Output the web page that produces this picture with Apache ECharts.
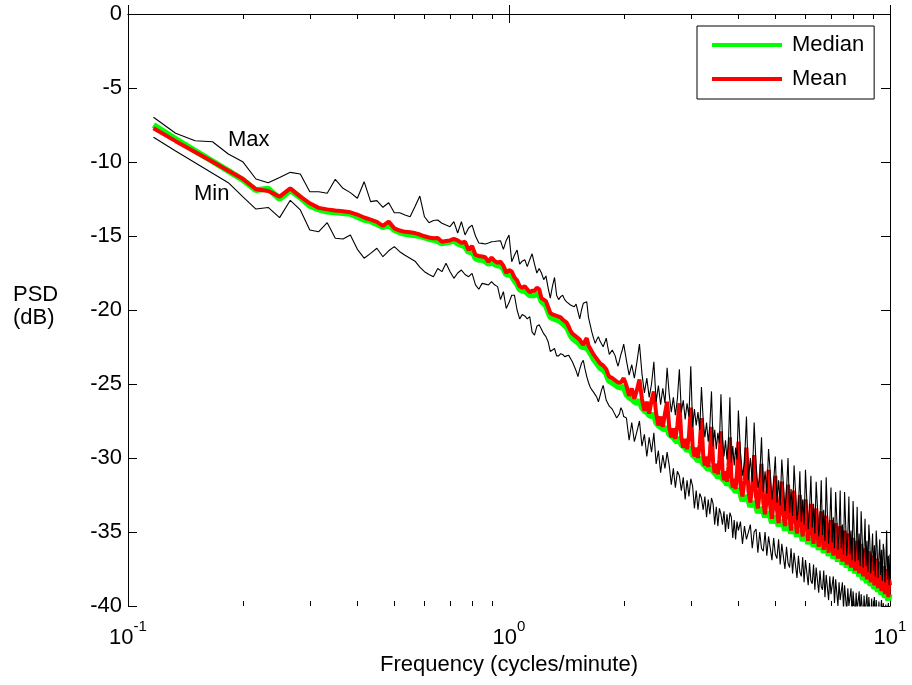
<!DOCTYPE html>
<html>
<head>
<meta charset="utf-8">
<script src="https://cdn.jsdelivr.net/npm/echarts@6/dist/echarts.min.js"></script>
<style>
html,body{margin:0;padding:0;background:#fff;}
#chart{width:912px;height:685px;}
</style>
</head>
<body>
<div id="chart"></div>
<script>
// FFT bin width (cycles/minute) and the bins that are plotted
const binWidth = 1 / 60;
const bins = [];
for (let k = 7; k <= 120; k++) bins.push(k);
for (let k = 122; k <= 240; k += 2) bins.push(k);
for (let k = 243; k <= 600; k += 3) bins.push(k);

const xTickLabels = [0.1, 1, 10];
const minorTicks = [0.2,0.3,0.4,0.5,0.6,0.7,0.8,0.9,2,3,4,5,6,7,8,9];
const yTicks = [0,-5,-10,-15,-20,-25,-30,-35,-40];

const maxPSD = [
-6.98,-8.06,-8.56,-8.63,-9.46,-9.98,-11.15,-11.4,-11.05,-10.7,
-10.81,-12.01,-12.01,-12.11,-11.17,-11.78,-12.07,-12.45,-11.33,-12.68,
-12.61,-13.06,-12.75,-13.43,-13.43,-13.58,-13.7,-13.0,-12.3,-13.7,
-14.1,-13.95,-13.92,-14.14,-14.26,-14.37,-14.03,-14.8,-14.03,-14.93,
-14.46,-14.26,-15.0,-15.47,-15.5,-15.54,-15.47,-15.39,-15.37,-15.34,
-15.32,-15.9,-15.3,-14.93,-16.74,-16.3,-15.95,-16.9,-16.7,-16.6,
-17.07,-16.6,-16.2,-16.9,-17.5,-17.2,-17.5,-17.95,-17.7,-18.5,
-19.2,-18.4,-17.8,-19.0,-19.3,-19.1,-19.0,-19.3,-19.45,-19.55,
-19.66,-19.7,-19.78,-19.6,-19.5,-20.6,-20.0,-19.55,-19.5,-19.44,
-20.5,-21.0,-21.5,-21.9,-22.25,-22.0,-21.8,-22.1,-22.3,-22.48,
-22.2,-21.9,-22.5,-23.0,-23.1,-22.7,-22.6,-23.1,-23.5,-23.8,
-23.4,-23.0,-22.7,-22.3,
-23.4,-24.4,-23.7,-24.6,-23.5,-22.3,
-24.3,-25.6,-24.6,-25.9,-25.0,-23.5,
-26.2,-25.1,-26.4,-25.3,-26.3,-23.9,
-25.7,-26.9,-25.9,-27.1,-26.0,-24.0,
-26.9,-26.1,-27.4,-26.3,-27.2,-23.8,
-27.9,-26.7,-27.8,-26.9,-28.1,-25.2,
-27.4,-28.6,-27.6,-28.9,-27.8,-25.5,
-29.2,-28.1,-29.4,-28.3,-29.0,-25.7,
-28.7,-29.9,-28.8,-30.1,-29.0,-25.9,
-30.3,-29.2,-30.5,-29.3,-30.1,-26.8,
-29.6,-31.2,-30.3,-27.2, -31.5,-30.0,-31.6,-27.6, -30.4,-32.0,-31.3,-28.6,
-32.3,-30.9,-32.4,-29.4, -31.0,-32.8,-31.6,-29.9, -33.0,-31.5,-33.2,-30.1,
-31.8,-33.6,-32.2,-30.0, -33.7,-32.1,-33.9,-30.5, -32.3,-34.2,-33.3,-30.9,
-34.3,-32.8,-34.5,-30.8, -32.9,-34.8,-33.4,-31.2, -34.7,-33.1,-35.1,-31.6,
-33.3,-35.3,-34.2,-31.5, -35.2,-33.5,-35.6,-31.3, -33.8,-35.8,-34.3,-32.0,
-35.7,-34.0,-36.1,-32.3, -34.1,-36.2,-35.0,-32.2, -36.1,-34.5,-36.5,-32.3,
-34.5,-36.6,-35.2,-32.6, -36.5,-34.9,-36.9,-32.9, -34.9,-37.0,-35.8,-33.3,
-36.9,-35.1,-37.3,-33.6, -35.3,-37.4,-36.0,-34.1, -37.3,-35.6,-37.7,-34.5,
-35.6,-37.8,-36.5,-35.1, -37.6,-35.9,-38.0,-34.9, -36.0,-38.1,-36.7,-35.5,
-37.9,-36.2,-38.3,-35.8, -36.3,-38.4,-37.2,-34.9, -38.2,-36.6,-38.6,-36.5
];

const minPSD = [
-8.33,-9.26,-10.05,-10.76,-11.4,-12.34,-13.18,-13.07,-13.76,-12.59,
-13.24,-14.59,-14.71,-14.1,-15.15,-15.2,-14.93,-15.9,-16.5,-16.17,
-15.83,-16.4,-16.0,-15.72,-16.06,-16.3,-16.5,-16.7,-17.1,-17.41,
-17.6,-17.75,-17.2,-17.41,-16.84,-17.4,-17.86,-17.5,-17.3,-17.6,
-17.75,-17.52,-18.3,-18.6,-18.2,-18.25,-18.31,-18.09,-18.3,-18.42,
-19.3,-18.76,-19.9,-19.5,-19.0,-19.0,-20.0,-20.6,-20.3,-20.4,
-20.6,-20.45,-21.5,-21.7,-21.1,-21.0,-21.3,-21.6,-21.8,-22.14,
-22.8,-22.7,-22.6,-23.1,-23.1,-22.95,-23.0,-23.15,-23.1,-23.05,
-23.1,-23.5,-23.8,-24.1,-24.5,-24.0,-23.6,-23.4,-24.0,-24.5,
-24.9,-25.2,-25.4,-25.55,-25.65,-25.9,-26.2,-25.8,-25.4,-25.1,
-25.6,-26.1,-26.3,-26.5,-26.5,-26.7,-26.9,-27.1,-27.3,-27.4,
-27.0,-26.6,-26.8,-27.2,
-27.3,-28.8,-27.6,-28.9,-28.2,-27.5,
-29.2,-28.4,-29.9,-28.6,-29.6,-28.3,
-30.4,-29.5,-31.0,-29.8,-30.7,-29.6,
-30.5,-31.8,-30.7,-32.0,-30.9,-31.2,
-32.2,-31.3,-32.8,-31.5,-32.6,-31.4,
-31.9,-33.4,-32.2,-33.5,-32.4,-32.7,
-33.5,-32.6,-34.0,-32.8,-33.8,-32.7,
-33.1,-34.5,-33.3,-34.6,-33.4,-33.8,
-34.5,-33.6,-35.0,-33.8,-34.8,-33.7,
-34.0,-35.4,-34.2,-35.5,-34.3,-34.9,
-34.3,-35.8,-34.6,-35.5, -35.6,-34.5,-36.1,-35.0, -34.8,-36.4,-35.0,-36.1,
-36.3,-35.0,-36.6,-35.3, -35.2,-36.9,-35.4,-36.5, -36.8,-35.5,-37.2,-35.8,
-35.8,-37.5,-36.0,-37.1, -37.4,-36.1,-37.8,-36.4, -36.4,-38.1,-36.6,-37.7,
-38.0,-36.7,-38.4,-36.9, -36.9,-38.6,-37.1,-38.3, -38.5,-37.2,-38.9,-37.4,
-37.4,-39.1,-37.6,-38.7, -38.9,-37.6,-39.4,-37.9, -37.8,-39.6,-38.0,-39.2,
-39.3,-38.0,-39.8,-38.2, -38.2,-40.0,-38.4,-39.6, -39.7,-38.4,-40.2,-38.6,
-38.6,-40.4,-38.8,-40.0, -40.1,-38.8,-40.6,-39.0, -38.9,-40.7,-39.1,-40.3,
-40.3,-39.0,-40.8,-39.2, -39.1,-40.9,-39.3,-40.5, -40.5,-39.2,-41.0,-39.4,
-39.3,-41.1,-39.5,-40.7, -40.7,-39.4,-41.2,-39.6, -39.5,-41.3,-39.7,-40.9,
-40.9,-39.6,-41.4,-39.8, -39.7,-41.5,-39.9,-41.0, -41.0,-39.8,-41.5,-40.0
];

const meanPSD = [
-7.72,-8.59,-9.33,-9.99,-10.59,-11.13,-11.84,-11.96,-12.34,-11.78,
-12.34,-12.79,-13.1,-13.2,-13.28,-13.33,-13.4,-13.55,-13.75,-13.89,
-14.05,-14.32,-14.03,-14.48,-14.63,-14.72,-14.75,-14.8,-14.9,-15.02,
-15.1,-15.15,-15.14,-15.39,-15.34,-15.3,-15.2,-15.3,-15.47,-15.39,
-15.95,-15.68,-16.28,-16.35,-16.39,-16.44,-16.74,-16.45,-16.69,-16.8,
-16.74,-17.0,-17.5,-17.3,-17.4,-17.8,-18.0,-18.4,-18.5,-18.4,
-18.6,-18.8,-18.7,-18.7,-18.5,-18.6,-19.2,-19.3,-19.4,-19.8,
-20.2,-20.3,-20.35,-20.4,-20.45,-20.5,-20.65,-20.75,-20.85,-21.1,
-21.4,-21.6,-21.65,-21.8,-21.9,-22.0,-22.2,-22.35,-22.1,-21.9,
-22.4,-22.6,-22.8,-23.0,-23.15,-23.3,-23.45,-23.6,-23.65,-23.75,
-23.8,-24.0,-24.3,-24.5,-24.55,-24.6,-24.7,-24.75,-24.85,-24.9,
-24.95,-24.9,-24.8,-24.6,
-25.1,-25.8,-25.3,-26.0,-25.4,-24.7,
-26.0,-26.8,-26.2,-27.0,-26.1,-25.5,
-27.0,-27.8,-27.2,-27.9,-27.0,-26.2,
-27.9,-28.6,-28.0,-28.7,-27.8,-26.3,
-28.6,-29.3,-28.7,-29.4,-28.5,-26.6,
-29.2,-29.9,-29.3,-30.0,-29.1,-27.3,
-29.8,-30.5,-29.9,-30.6,-29.7,-27.9,
-30.3,-31.0,-30.4,-31.1,-30.1,-28.2,
-30.8,-31.5,-30.9,-31.6,-30.6,-28.6,
-31.3,-32.0,-31.4,-32.1,-31.0,-28.9,
-31.8,-32.6,-31.5,-29.3, -32.2,-33.0,-31.9,-29.8, -32.6,-33.4,-32.3,-30.4,
-33.0,-33.8,-32.7,-30.8, -33.3,-34.1,-33.0,-31.2, -33.5,-34.4,-33.2,-31.6,
-33.8,-34.6,-33.5,-31.8, -34.0,-34.9,-33.7,-32.2, -34.2,-35.1,-33.9,-32.5,
-34.5,-35.3,-34.2,-32.8, -34.7,-35.6,-34.4,-33.1, -34.9,-35.8,-34.6,-33.4,
-35.1,-36.0,-34.8,-33.6, -35.3,-36.2,-35.0,-33.9, -35.5,-36.4,-35.2,-34.2,
-35.7,-36.6,-35.4,-34.4, -35.9,-36.8,-35.6,-34.6, -36.1,-37.0,-35.8,-34.9,
-36.3,-37.2,-36.0,-35.1, -36.5,-37.4,-36.2,-35.4, -36.7,-37.6,-36.4,-35.6,
-36.9,-37.8,-36.6,-35.8, -37.1,-38.0,-36.8,-36.1, -37.3,-38.2,-37.0,-36.3,
-37.5,-38.4,-37.2,-36.6, -37.7,-38.6,-37.4,-36.8, -37.9,-38.8,-37.6,-37.0,
-38.1,-39.0,-37.8,-37.3, -38.3,-39.2,-38.0,-37.5, -38.5,-39.4,-38.2,-38.6
];

const medianPSD = [
-7.5,-8.45,-9.25,-9.95,-10.6,-11.2,-11.9,-11.8,-12.5,-11.9,
-12.4,-12.95,-13.2,-13.35,-13.4,-13.45,-13.5,-13.7,-13.9,-14.0,
-14.2,-14.4,-14.25,-14.6,-14.75,-14.85,-14.9,-14.95,-15.0,-15.1,
-15.2,-15.25,-15.35,-15.5,-15.45,-15.4,-15.3,-15.5,-15.6,-15.7,
-16.1,-16.0,-16.5,-16.6,-16.6,-16.7,-16.9,-16.75,-16.9,-17.0,
-17.0,-17.2,-17.6,-17.6,-17.7,-18.0,-18.25,-18.6,-18.7,-18.7,
-18.85,-19.0,-19.0,-19.0,-18.9,-19.0,-19.4,-19.55,-19.7,-20.1,
-20.45,-20.55,-20.6,-20.65,-20.7,-20.8,-20.9,-21.0,-21.15,-21.4,
-21.7,-21.9,-21.95,-22.1,-22.2,-22.3,-22.5,-22.6,-22.5,-22.4,
-22.7,-22.9,-23.1,-23.3,-23.45,-23.6,-23.75,-23.9,-23.95,-24.05,
-24.1,-24.3,-24.6,-24.8,-24.85,-24.9,-25.0,-25.05,-25.15,-25.2,
-25.25,-25.25,-25.2,-25.2,
-25.7,-25.9,-26.0,-26.2,-26.3,-26.1,
-26.6,-26.8,-26.9,-27.1,-27.2,-27.0,
-27.6,-27.8,-27.9,-28.0,-28.1,-27.9,
-28.4,-28.5,-28.6,-28.8,-28.9,-28.6,
-29.1,-29.2,-29.3,-29.5,-29.6,-29.3,
-29.8,-29.9,-30.0,-30.2,-30.2,-30.0,
-30.4,-30.5,-30.6,-30.8,-30.8,-30.6,
-30.9,-31.0,-31.1,-31.3,-31.3,-31.1,
-31.4,-31.5,-31.6,-31.8,-31.8,-31.6,
-31.9,-32.0,-32.1,-32.3,-32.3,-32.1,
-32.4,-32.9,-32.6,-32.7, -32.8,-33.3,-33.0,-33.1, -33.2,-33.7,-33.4,-33.5,
-33.6,-34.0,-33.7,-33.8, -33.9,-34.4,-34.0,-34.1, -34.1,-34.6,-34.3,-34.4,
-34.4,-34.9,-34.5,-34.6, -34.6,-35.1,-34.8,-34.8, -34.9,-35.3,-35.0,-35.1,
-35.1,-35.6,-35.3,-35.3, -35.3,-35.8,-35.5,-35.6, -35.5,-36.0,-35.7,-35.8,
-35.7,-36.2,-35.9,-36.0, -35.9,-36.4,-36.1,-36.2, -36.1,-36.6,-36.3,-36.4,
-36.3,-36.8,-36.5,-36.6, -36.5,-37.0,-36.7,-36.8, -36.7,-37.2,-36.9,-37.0,
-36.9,-37.4,-37.1,-37.2, -37.1,-37.6,-37.3,-37.4, -37.3,-37.8,-37.5,-37.6,
-37.5,-38.0,-37.7,-37.8, -37.7,-38.2,-37.9,-38.0, -37.9,-38.4,-38.1,-38.2,
-38.1,-38.6,-38.3,-38.4, -38.3,-38.8,-38.5,-38.6, -38.5,-39.0,-38.7,-38.8,
-38.7,-39.2,-38.9,-39.0, -38.9,-39.4,-39.1,-39.2, -39.1,-39.6,-39.3,-39.4
];

const FONT = '"Liberation Sans", Arial, Helvetica, sans-serif';
const freqs = bins.map(k => k * binWidth);
const pairs = arr => freqs.map((f, i) => [f, arr[i]]);
console.log(bins.length, maxPSD.length, minPSD.length, meanPSD.length, medianPSD.length);

const chart = echarts.init(document.getElementById('chart'), null, {renderer: 'canvas'});

const xCommon = {
  type: 'log', logBase: 10, min: 0.1, max: 10,
  axisLine: {show: true, lineStyle: {color: '#000', width: 1}},
  axisTick: {show: true, inside: true, length: 9, lineStyle: {color: '#000', width: 1}},
  splitLine: {show: false}, minorTick: {show: false}
};
const yCommon = {
  type: 'value', min: -40, max: 0, interval: 5,
  axisLine: {show: true, lineStyle: {color: '#000', width: 1}},
  axisTick: {show: true, inside: true, length: 9, lineStyle: {color: '#000', width: 1}},
  splitLine: {show: false}
};

const option = {
  animation: false,
  backgroundColor: '#fff',
  textStyle: {fontFamily: FONT, color: '#000'},
  grid: {left: 128, right: 22, top: 14, bottom: 79, containLabel: false},
  xAxis: [
    Object.assign({}, xCommon, {
      position: 'bottom',
      name: 'Frequency (cycles/minute)', nameLocation: 'middle', nameGap: 45,
      nameTextStyle: {fontSize: 22, color: '#000', fontFamily: FONT},
      axisLabel: {
        show: true, margin: 13,
        formatter: v => {
          const e = Math.round(Math.log10(v));
          return xTickLabels.some(t => Math.abs(t - v) < 1e-9) ? '{b|10}{e|' + e + '}' : '';
        },
        rich: {
          b: {fontSize: 22, fontFamily: FONT, color: '#000', lineHeight: 30, verticalAlign: 'bottom'},
          e: {fontSize: 15, fontFamily: FONT, color: '#000', verticalAlign: 'top'}
        }
      }
    }),
    Object.assign({}, xCommon, {position: 'top', axisLabel: {show: false}})
  ],
  yAxis: [
    Object.assign({}, yCommon, {
      position: 'left',
      axisLabel: {show: true, fontSize: 22, margin: 6, color: '#000', fontFamily: FONT,
        formatter: v => yTicks.indexOf(v) >= 0 ? String(v) : ''}
    }),
    Object.assign({}, yCommon, {position: 'right', axisLabel: {show: false}})
  ],
  legend: {
    data: [{name: 'Median', icon: 'rect'}, {name: 'Mean', icon: 'rect'}],
    orient: 'vertical', left: 697, top: 26,
    padding: [7, 10, 8, 15], itemWidth: 70, itemHeight: 4, itemGap: 10,
    borderColor: '#000', borderWidth: 1, backgroundColor: '#fff',
    selectedMode: false,
    textStyle: {fontSize: 22, color: '#000', fontFamily: FONT, lineHeight: 24, padding: [0, 0, 0, 5]}
  },
  graphic: [
    {type: 'text', silent: true, style: {text: 'PSD', x: 13, y: 295, font: '22px ' + FONT, fill: '#000', textAlign: 'left', textVerticalAlign: 'middle'}},
    {type: 'text', silent: true, style: {text: '(dB)', x: 13, y: 318, font: '22px ' + FONT, fill: '#000', textAlign: 'left', textVerticalAlign: 'middle'}},
    {type: 'text', silent: true, style: {text: 'Max', x: 228, y: 140, font: '22px ' + FONT, fill: '#000', textAlign: 'left', textVerticalAlign: 'middle'}},
    {type: 'text', silent: true, style: {text: 'Min', x: 194, y: 193.5, font: '22px ' + FONT, fill: '#000', textAlign: 'left', textVerticalAlign: 'middle'}}
  ],
  series: [
    {name: 'Median', type: 'line', data: pairs(medianPSD), symbol: 'none', showSymbol: false,
     lineStyle: {color: '#00ff00', width: 6}, itemStyle: {color: '#00ff00'}, z: 2, silent: true, clip: true},
    {name: 'Mean', type: 'line', data: pairs(meanPSD), symbol: 'none', showSymbol: false,
     lineStyle: {color: '#ff0000', width: 4}, itemStyle: {color: '#ff0000'}, z: 3, silent: true, clip: true},
    {name: 'Max', type: 'line', data: pairs(maxPSD), symbol: 'none', showSymbol: false,
     lineStyle: {color: '#000', width: 1.1}, itemStyle: {color: '#000'}, z: 4, silent: true, clip: true},
    {name: 'Min', type: 'line', data: pairs(minPSD), symbol: 'none', showSymbol: false,
     lineStyle: {color: '#000', width: 1.1}, itemStyle: {color: '#000'}, z: 4, silent: true, clip: true},
    {name: 'minorTicks', type: 'custom', silent: true, clip: false, z: 5,
     data: minorTicks.map(f => [f, -40]),
     renderItem: (params, api) => {
       const f = api.value(0);
       const pb = api.coord([f, -40]);
       const pt = api.coord([f, 0]);
       const x = Math.round(pb[0]) + 0.5;
       return {type: 'group', children: [
         {type: 'line', shape: {x1: x, y1: pb[1], x2: x, y2: pb[1] - 5}, style: {stroke: '#000', lineWidth: 1}},
         {type: 'line', shape: {x1: x, y1: pt[1], x2: x, y2: pt[1] + 5}, style: {stroke: '#000', lineWidth: 1}}
       ]};
     }}
  ]
};
chart.setOption(option);
</script>
</body>
</html>
